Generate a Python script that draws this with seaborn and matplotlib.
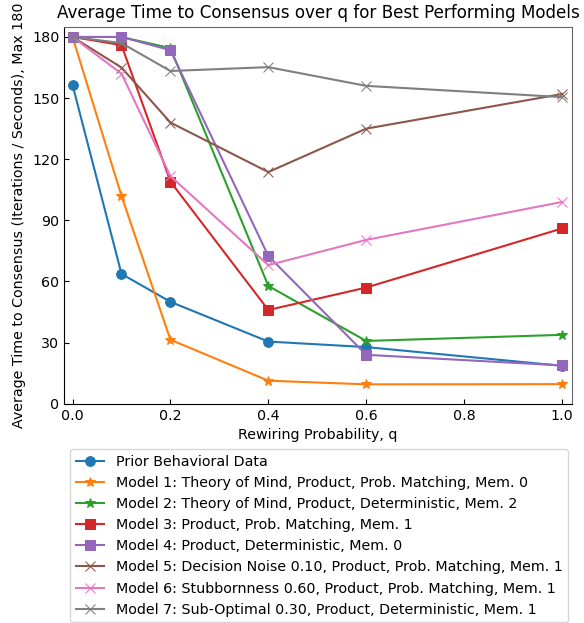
import matplotlib
matplotlib.use("Agg")
import matplotlib.pyplot as plt
import pandas as pd
import seaborn as sns

plt.rcParams["font.size"] = 10.25
plt.rcParams["axes.titlesize"] = 12.1

# Rewiring probabilities
q_values = [0.0, 0.1, 0.2, 0.4, 0.6, 1.0]

# Average time to consensus per model
prior = [156.4, 63.7, 50.0, 30.5, 27.8, 18.6]
model1 = [180.0, 102.0, 31.4, 11.3, 9.5, 9.6]
model2 = [180.0, 180.0, 174.5, 57.8, 30.8, 33.8]
model3 = [180.0, 176.0, 109.0, 46.0, 57.0, 86.0]
model4 = [180.0, 180.0, 173.5, 72.5, 24.0, 18.8]
model5 = [180.0, 165.0, 138.0, 113.7, 135.0, 152.0]
model6 = [180.0, 162.0, 111.7, 68.0, 80.4, 99.0]
model7 = [180.0, 177.0, 163.3, 165.2, 156.0, 150.5]

labels = [
    "Prior Behavioral Data",
    "Model 1: Theory of Mind, Product, Prob. Matching, Mem. 0",
    "Model 2: Theory of Mind, Product, Deterministic, Mem. 2",
    "Model 3: Product, Prob. Matching, Mem. 1",
    "Model 4: Product, Deterministic, Mem. 0",
    "Model 5: Decision Noise 0.10, Product, Prob. Matching, Mem. 1",
    "Model 6: Stubbornness 0.60, Product, Prob. Matching, Mem. 1",
    "Model 7: Sub-Optimal 0.30, Product, Deterministic, Mem. 1",
]
series = [prior, model1, model2, model3, model4, model5, model6, model7]
markers = ["o", "*", "*", "s", "s", "x", "x", "x"]
colors = sns.color_palette("tab10", 8)

# long-form table
rows = []
for lab, vals in zip(labels, series):
    for q, v in zip(q_values, vals):
        rows.append({"q": q, "time": v, "model": lab})
df = pd.DataFrame(rows)

fig = plt.figure(figsize=(5.84, 6.23), dpi=100)
ax = fig.add_axes([0.110, 0.352, 0.869, 0.605])

for lab, mk, col in zip(labels, markers, colors):
    sub = df[df["model"] == lab]
    sns.lineplot(data=sub, x="q", y="time", marker=mk, color=col, label=lab,
                 markersize=7, markeredgecolor=col, ax=ax)

ax.set_xlim(-0.017, 1.02)
ax.set_ylim(0, 185)
ax.set_yticks([0, 30, 60, 90, 120, 150, 180])
ax.set_xticks([0.0, 0.2, 0.4, 0.6, 0.8, 1.0])
ax.tick_params(direction="in")
ax.spines["top"].set_color("#666666")
ax.spines["right"].set_color("#666666")
ax.set_title("Average Time to Consensus over q for Best Performing Models")
ax.set_xlabel("Rewiring Probability, q")
ax.set_ylabel("Average Time to Consensus (Iterations / Seconds), Max 180")

handles, labs = ax.get_legend_handles_labels()
ax.get_legend().remove()
fig.legend(handles, labs, loc="upper left", bbox_to_anchor=(0.108, 0.2905))

fig.savefig("out.png", dpi=100)
